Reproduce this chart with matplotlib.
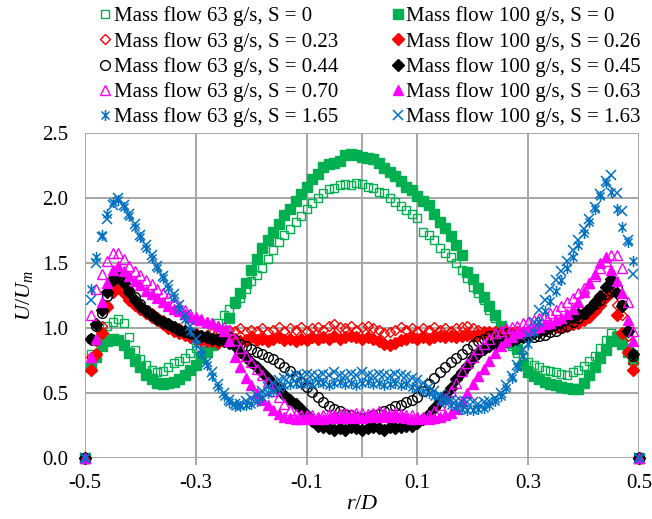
import numpy as np
import matplotlib
matplotlib.use('Agg')
import matplotlib.pyplot as plt
from matplotlib.path import Path

plt.rcParams['font.family'] = ['Liberation Serif']
plt.rcParams['mathtext.fontset'] = 'custom'
plt.rcParams['mathtext.rm'] = 'Liberation Serif'
plt.rcParams['mathtext.it'] = 'Liberation Serif:italic'

# radial positions r/D
r = [-0.50,
     -0.49, -0.48, -0.47, -0.46, -0.45, -0.44, -0.43, -0.42, -0.41, -0.40,
     -0.39, -0.38, -0.37, -0.36, -0.35, -0.34, -0.33, -0.32, -0.31, -0.30,
     -0.29, -0.28, -0.27, -0.26, -0.25, -0.24, -0.23, -0.22, -0.21, -0.20,
     -0.19, -0.18, -0.17, -0.16, -0.15, -0.14, -0.13, -0.12, -0.11, -0.10,
     -0.09, -0.08, -0.07, -0.06, -0.05, -0.04, -0.03, -0.02, -0.01,
     0.00,
     0.01, 0.02, 0.03, 0.04, 0.05, 0.06, 0.07, 0.08, 0.09, 0.10,
     0.11, 0.12, 0.13, 0.14, 0.15, 0.16, 0.17, 0.18, 0.19, 0.20,
     0.21, 0.22, 0.23, 0.24, 0.25, 0.26, 0.27, 0.28, 0.29, 0.30,
     0.31, 0.32, 0.33, 0.34, 0.35, 0.36, 0.37, 0.38, 0.39, 0.40,
     0.41, 0.42, 0.43, 0.44, 0.45, 0.46, 0.47, 0.48, 0.49,
     0.50]

# U/Um, mass flow 63 g/s
u63_s000 = [0,
    0.80, 0.90, 0.97, 1.02, 1.05, 1.07, 1.04, 0.93, 0.83, 0.76,
    0.72, 0.68, 0.66, 0.67, 0.70, 0.73, 0.75, 0.77, 0.81, 0.85,
    0.89, 0.93, 0.98, 1.04, 1.10, 1.15, 1.19, 1.23, 1.30, 1.36,
    1.41, 1.46, 1.53, 1.60, 1.66, 1.72, 1.76, 1.82, 1.86, 1.92,
    1.96, 2.00, 2.04, 2.07, 2.08, 2.10, 2.11, 2.10, 2.12,
    2.11,
    2.09, 2.08, 2.05, 2.04, 2.00, 1.97, 1.94, 1.91, 1.88, 1.85,
    1.74, 1.72, 1.68, 1.62, 1.58, 1.55, 1.50, 1.45, 1.39, 1.32,
    1.27, 1.22, 1.14, 1.08, 0.99, 0.92, 0.86, 0.81, 0.78, 0.74,
    0.72, 0.70, 0.68, 0.67, 0.66, 0.65, 0.64, 0.66, 0.68, 0.71,
    0.75, 0.79, 0.85, 0.91, 0.96, 0.95, 0.90, 0.85, 0.80,
    0]
u63_s023 = [0,
    0.78, 0.90, 1.02, 1.18, 1.28, 1.33, 1.30, 1.25, 1.21, 1.17,
    1.14, 1.12, 1.09, 1.06, 1.04, 1.02, 1.00, 0.98, 0.97, 0.96,
    0.95, 0.95, 0.96, 0.97, 0.98, 0.99, 0.98, 1.00, 0.97, 0.99,
    0.98, 1.00, 0.97, 0.99, 1.01, 0.98, 1.00, 0.99, 1.01, 0.98,
    1.00, 1.01, 0.99, 1.02, 1.03, 1.01, 1.00, 1.02, 0.99,
    1.01,
    1.02, 1.00, 0.99, 0.96, 0.97, 0.99, 1.01, 0.99, 1.00, 0.98,
    1.00, 0.99, 1.01, 0.99, 1.00, 0.98, 1.00, 1.01, 1.02, 1.00,
    0.99, 0.98, 0.98, 0.97, 0.96, 0.96, 0.96, 0.97, 0.97, 0.97,
    0.98, 0.98, 0.99, 1.00, 1.01, 1.01, 1.02, 1.03, 1.04, 1.07,
    1.10, 1.14, 1.19, 1.25, 1.27, 1.18, 1.10, 0.94, 0.73,
    0]
u63_s044 = [0,
    0.92, 1.02, 1.12, 1.25, 1.38, 1.42, 1.36, 1.29, 1.24, 1.19,
    1.14, 1.10, 1.07, 1.05, 1.03, 1.01, 0.99, 0.97, 0.96, 0.95,
    0.94, 0.93, 0.92, 0.92, 0.93, 0.93, 0.91, 0.88, 0.86, 0.84,
    0.82, 0.80, 0.78, 0.76, 0.73, 0.70, 0.67, 0.63, 0.59, 0.55,
    0.51, 0.47, 0.43, 0.40, 0.38, 0.36, 0.34, 0.33, 0.32,
    0.31,
    0.32, 0.33, 0.34, 0.36, 0.38, 0.40, 0.41, 0.43, 0.45, 0.47,
    0.52, 0.57, 0.62, 0.66, 0.70, 0.74, 0.77, 0.80, 0.84, 0.87,
    0.90, 0.92, 0.94, 0.95, 0.96, 0.96, 0.95, 0.94, 0.93, 0.93,
    0.93, 0.94, 0.95, 0.97, 0.98, 1.00, 1.02, 1.05, 1.08, 1.11,
    1.15, 1.19, 1.22, 1.26, 1.29, 1.31, 1.18, 0.98, 0.79,
    0]
u63_s070 = [0,
    1.10, 1.30, 1.42, 1.52, 1.58, 1.58, 1.53, 1.48, 1.44, 1.41,
    1.37, 1.34, 1.30, 1.27, 1.24, 1.20, 1.17, 1.14, 1.11, 1.09,
    1.07, 1.05, 1.04, 1.02, 1.01, 0.99, 0.91, 0.85, 0.79, 0.74,
    0.69, 0.64, 0.59, 0.52, 0.47, 0.42, 0.37, 0.34, 0.33, 0.33,
    0.33, 0.32, 0.33, 0.34, 0.33, 0.34, 0.35, 0.34, 0.35,
    0.35,
    0.34, 0.35, 0.36, 0.35, 0.34, 0.35, 0.34, 0.33, 0.33, 0.32,
    0.32, 0.33, 0.36, 0.41, 0.46, 0.52, 0.58, 0.67, 0.73, 0.78,
    0.84, 0.88, 0.92, 0.96, 0.98, 1.00, 1.01, 1.02, 1.04, 1.05,
    1.06, 1.08, 1.10, 1.12, 1.14, 1.17, 1.20, 1.23, 1.27, 1.31,
    1.35, 1.40, 1.46, 1.52, 1.56, 1.56, 1.46, 1.20, 0.98,
    0]
u63_s165 = [0,
    1.30, 1.55, 1.72, 1.88, 1.97, 1.99, 1.93, 1.86, 1.78, 1.70,
    1.62, 1.54, 1.46, 1.39, 1.31, 1.24, 1.15, 1.07, 0.98, 0.88,
    0.80, 0.72, 0.63, 0.55, 0.48, 0.43, 0.40, 0.40, 0.41, 0.42,
    0.44, 0.47, 0.50, 0.52, 0.54, 0.56, 0.57, 0.58, 0.57, 0.58,
    0.57, 0.59, 0.58, 0.56, 0.58, 0.59, 0.57, 0.58, 0.56,
    0.58,
    0.59, 0.57, 0.58, 0.56, 0.57, 0.58, 0.56, 0.57, 0.55, 0.54,
    0.52, 0.50, 0.48, 0.45, 0.43, 0.41, 0.40, 0.38, 0.37, 0.37,
    0.38, 0.39, 0.41, 0.44, 0.48, 0.54, 0.62, 0.70, 0.79, 0.88,
    0.97, 1.05, 1.13, 1.21, 1.29, 1.37, 1.46, 1.55, 1.64, 1.73,
    1.82, 1.92, 2.02, 2.12, 2.05, 1.92, 1.78, 1.66, 1.52,
    0]

# U/Um, mass flow 100 g/s
u100_s000 = [0,
    0.70, 0.78, 0.86, 0.90, 0.92, 0.91, 0.87, 0.81, 0.75, 0.70,
    0.64, 0.61, 0.58, 0.57, 0.58, 0.59, 0.61, 0.64, 0.68, 0.72,
    0.77, 0.82, 0.87, 0.92, 0.98, 1.08, 1.20, 1.27, 1.35, 1.45,
    1.53, 1.62, 1.68, 1.74, 1.80, 1.87, 1.92, 1.98, 2.03, 2.09,
    2.15, 2.19, 2.24, 2.26, 2.27, 2.29, 2.33, 2.34, 2.33,
    2.32,
    2.31, 2.30, 2.27, 2.23, 2.20, 2.17, 2.13, 2.09, 2.06, 2.02,
    1.98, 1.95, 1.88, 1.82, 1.77, 1.71, 1.64, 1.56, 1.43, 1.38,
    1.31, 1.24, 1.17, 1.10, 1.02, 0.95, 0.89, 0.84, 0.72, 0.66,
    0.63, 0.61, 0.59, 0.57, 0.56, 0.55, 0.54, 0.53, 0.53, 0.58,
    0.64, 0.70, 0.77, 0.83, 0.90, 0.93, 0.88, 0.82, 0.76,
    0]
u100_s026 = [0,
    0.68, 0.80, 0.96, 1.16, 1.28, 1.33, 1.27, 1.22, 1.18, 1.15,
    1.12, 1.09, 1.06, 1.03, 1.00, 0.98, 0.96, 0.95, 0.93, 0.92,
    0.91, 0.90, 0.90, 0.89, 0.90, 0.91, 0.92, 0.90, 0.91, 0.93,
    0.91, 0.92, 0.90, 0.92, 0.93, 0.91, 0.92, 0.90, 0.92, 0.91,
    0.93, 0.92, 0.93, 0.92, 0.94, 0.92, 0.93, 0.94, 0.93,
    0.92,
    0.93, 0.92, 0.90, 0.88, 0.87, 0.89, 0.91, 0.92, 0.93, 0.92,
    0.93, 0.92, 0.93, 0.94, 0.93, 0.94, 0.93, 0.94, 0.95, 0.94,
    0.95, 0.96, 0.96, 0.97, 0.97, 0.97, 0.96, 0.97, 0.96, 0.97,
    0.97, 0.98, 0.99, 1.00, 1.01, 1.01, 1.02, 1.03, 1.04, 1.06,
    1.09, 1.13, 1.18, 1.24, 1.28, 1.10, 0.96, 0.82, 0.68,
    0]
u100_s045 = [0,
    0.92, 1.03, 1.14, 1.28, 1.37, 1.41, 1.35, 1.28, 1.22, 1.17,
    1.13, 1.10, 1.07, 1.05, 1.03, 1.01, 0.99, 0.98, 0.96, 0.95,
    0.94, 0.93, 0.92, 0.91, 0.90, 0.89, 0.86, 0.82, 0.78, 0.74,
    0.70, 0.66, 0.62, 0.57, 0.53, 0.49, 0.45, 0.42, 0.38, 0.33,
    0.29, 0.25, 0.24, 0.23, 0.22, 0.23, 0.22, 0.24, 0.23,
    0.22,
    0.23, 0.24, 0.23, 0.22, 0.24, 0.23, 0.24, 0.25, 0.25, 0.27,
    0.30, 0.34, 0.39, 0.44, 0.48, 0.54, 0.61, 0.66, 0.71, 0.77,
    0.81, 0.84, 0.86, 0.88, 0.89, 0.90, 0.91, 0.92, 0.93, 0.95,
    0.96, 0.97, 0.99, 1.01, 1.03, 1.05, 1.07, 1.09, 1.11, 1.12,
    1.15, 1.20, 1.25, 1.32, 1.38, 1.27, 1.17, 0.98, 0.80,
    0]
u100_s063 = [0,
    0.78, 0.92, 1.20, 1.35, 1.45, 1.48, 1.44, 1.40, 1.36, 1.33,
    1.29, 1.26, 1.23, 1.20, 1.17, 1.15, 1.13, 1.11, 1.09, 1.07,
    1.06, 1.05, 1.04, 1.02, 0.98, 0.90, 0.78, 0.70, 0.62, 0.56,
    0.50, 0.45, 0.41, 0.37, 0.34, 0.32, 0.31, 0.30, 0.30, 0.31,
    0.30, 0.31, 0.30, 0.31, 0.32, 0.31, 0.32, 0.31, 0.32,
    0.31,
    0.32, 0.33, 0.32, 0.33, 0.32, 0.33, 0.32, 0.31, 0.30, 0.30,
    0.31, 0.30, 0.31, 0.32, 0.33, 0.35, 0.38, 0.44, 0.50, 0.57,
    0.63, 0.69, 0.75, 0.81, 0.86, 0.90, 0.93, 0.96, 0.98, 0.99,
    1.00, 1.01, 1.03, 1.04, 1.06, 1.08, 1.11, 1.15, 1.20, 1.28,
    1.35, 1.42, 1.50, 1.55, 1.45, 1.36, 1.27, 1.06, 0.90,
    0]
u100_s163 = [0,
    1.22, 1.50, 1.70, 1.84, 1.95, 2.00, 1.95, 1.88, 1.80, 1.72,
    1.64, 1.56, 1.48, 1.40, 1.33, 1.26, 1.18, 1.10, 1.02, 0.92,
    0.83, 0.74, 0.66, 0.57, 0.50, 0.45, 0.42, 0.42, 0.44, 0.46,
    0.49, 0.52, 0.55, 0.58, 0.60, 0.62, 0.63, 0.64, 0.63, 0.65,
    0.64, 0.63, 0.65, 0.64, 0.66, 0.64, 0.63, 0.65, 0.64,
    0.66,
    0.64, 0.63, 0.65, 0.64, 0.63, 0.65, 0.64, 0.63, 0.62, 0.60,
    0.58, 0.55, 0.52, 0.49, 0.47, 0.45, 0.44, 0.43, 0.43, 0.43,
    0.42, 0.43, 0.44, 0.46, 0.50, 0.56, 0.63, 0.72, 0.84, 0.95,
    1.05, 1.14, 1.22, 1.30, 1.37, 1.44, 1.52, 1.60, 1.68, 1.76,
    1.84, 1.93, 2.03, 2.13, 2.18, 2.04, 1.90, 1.68, 1.42,
    0]

labels63 = ['Mass flow 63 g/s, S = 0', 'Mass flow 63 g/s, S = 0.23',
            'Mass flow 63 g/s, S = 0.44', 'Mass flow 63 g/s, S = 0.70',
            'Mass flow 63 g/s, S = 1.65']
labels100 = ['Mass flow 100 g/s, S = 0', 'Mass flow 100 g/s, S = 0.26',
             'Mass flow 100 g/s, S = 0.45', 'Mass flow 100 g/s, S = 0.63',
             'Mass flow 100 g/s, S = 1.63']
xticks = [-0.5, -0.3, -0.1, 0.1, 0.3, 0.5]
yticks = [0.0, 0.5, 1.0, 1.5, 2.0, 2.5]

# excel style asterisk: X with a vertical bar
d = 0.72
asterisk = Path([(0, -1), (0, 1), (-d, -d), (d, d), (-d, d), (d, -d)],
                [Path.MOVETO, Path.LINETO, Path.MOVETO, Path.LINETO, Path.MOVETO, Path.LINETO])

green = '#00B050'
red = '#FF0000'
mag = '#FF00FF'
blue = '#0070C0'

fig = plt.figure(figsize=(6.52, 5.19), dpi=100)
ax = fig.add_axes([0.1304, 0.1170, 0.8497, 0.6262])

h = {}
h['g63'], = ax.plot(r, u63_s000, ls='none', marker='s', ms=6.3, mfc='none', mec=green, mew=1.0, clip_on=False)
h['g100'], = ax.plot(r, u100_s000, ls='none', marker='s', ms=7.0, mfc=green, mec=green, clip_on=False)
h['r63'], = ax.plot(r, u63_s023, ls='none', marker='D', ms=5.4, mfc='none', mec=red, mew=1.0, clip_on=False)
h['r100'], = ax.plot(r, u100_s026, ls='none', marker='D', ms=5.8, mfc=red, mec=red, clip_on=False)
h['k63'], = ax.plot(r, u63_s044, ls='none', marker='o', ms=7.0, mfc='none', mec='black', mew=1.0, clip_on=False)
h['k100'], = ax.plot(r, u100_s045, ls='none', marker='D', ms=5.8, mfc='black', mec='black', clip_on=False)
h['m63'], = ax.plot(r, u63_s070, ls='none', marker='^', ms=7.5, mfc='none', mec=mag, mew=1.0, clip_on=False)
h['m100'], = ax.plot(r, u100_s063, ls='none', marker='^', ms=7.8, mfc=mag, mec=mag, clip_on=False)
h['b63'], = ax.plot(r, u63_s165, ls='none', marker=asterisk, ms=8, mfc='none', mec=blue, mew=1.1, clip_on=False)
h['b100'], = ax.plot(r, u100_s163, ls='none', marker='x', ms=7, mec=blue, mew=1.1, clip_on=False)

grid_c = '#A6A6A6'
ax.set_xlim(-0.5, 0.5)
ax.set_ylim(0, 2.5)
ax.set_xticks(xticks)
ax.set_xticklabels(['%.1f' % v for v in xticks])
ax.set_yticks(yticks)
ax.set_yticklabels(['%.1f' % v for v in yticks])
ax.grid(True, color=grid_c, lw=1.4)
ax.set_axisbelow(True)
ax.axvline(0, color=grid_c, lw=1.4, zorder=0.5)
for s in ax.spines.values():
    s.set_visible(False)
ax.tick_params(axis='x', length=5, width=1.4, color=grid_c, pad=6, labelsize=15)
ax.tick_params(axis='y', length=0, pad=12, labelsize=15)

ax.set_xlabel('$r/D$', fontsize=16, labelpad=2)
ax.set_ylabel('$U/U_m$', fontsize=16, labelpad=5)

order = ['g63', 'r63', 'k63', 'm63', 'b63', 'g100', 'r100', 'k100', 'm100', 'b100']
leg = fig.legend([h[k] for k in order], labels63 + labels100, loc='upper center',
                 bbox_to_anchor=(0.568, 1.012), ncol=2, frameon=False, fontsize=15,
                 handlelength=0.5, handletextpad=0.15, columnspacing=2.6,
                 labelspacing=0.26, borderpad=0.1)

fig.savefig('out.png', dpi=100)
